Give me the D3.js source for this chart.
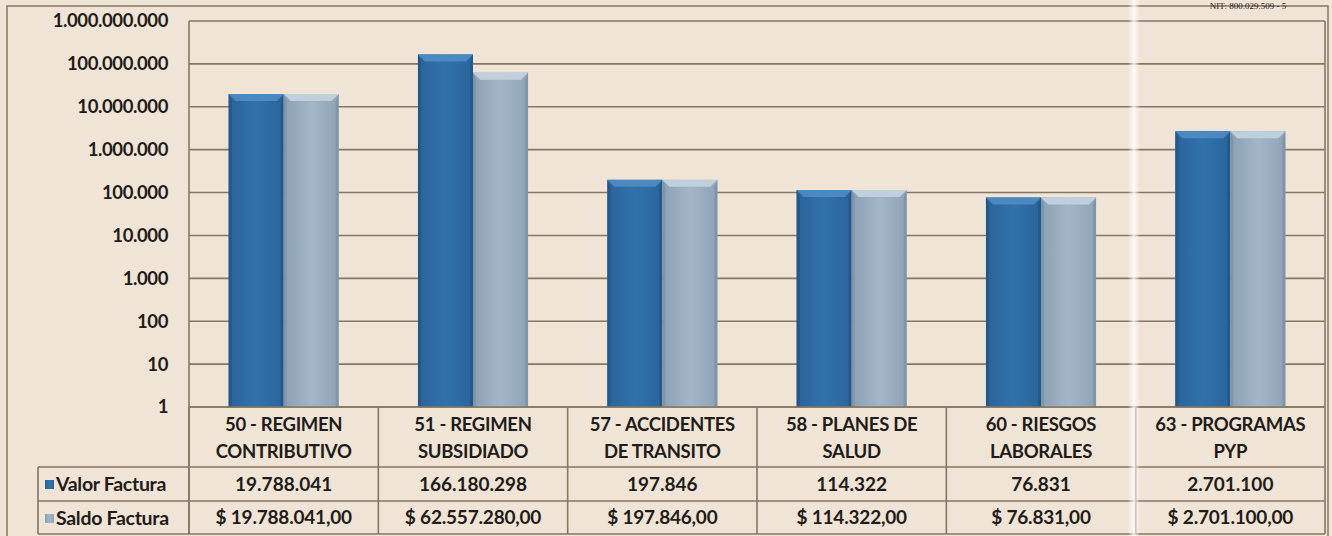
<!DOCTYPE html>
<html>
<head>
<meta charset="utf-8">
<script src="https://cdn.jsdelivr.net/npm/d3@7"></script>
<style>
  body { margin: 0; background: #f0e4d6; }
  svg { display: block; }
  text { font-family: Lato, "Open Sans", sans-serif; font-weight: bold; fill: #1f1c19; }
</style>
</head>
<body>
<svg id="svg" width="1332" height="536"></svg>
<script>
const categories = [
  ['50 - REGIMEN', 'CONTRIBUTIVO'],
  ['51 - REGIMEN', 'SUBSIDIADO'],
  ['57 - ACCIDENTES', 'DE TRANSITO'],
  ['58 - PLANES DE', 'SALUD'],
  ['60 - RIESGOS', 'LABORALES'],
  ['63 - PROGRAMAS', 'PYP']
]
const seriesNames = ['Valor Factura', 'Saldo Factura']
const valorFactura = [19788041, 166180298, 197846, 114322, 76831, 2701100]
const saldoFactura = [19788041, 62557280, 197846, 114322, 76831, 2701100]
const yTicks = [1, 10, 100, 1000, 10000, 100000, 1000000, 10000000, 100000000, 1000000000]

const es = d3.formatLocale({ decimal: ',', thousands: '.', grouping: [3], currency: ['$ ', ''] })
const fmtInt = es.format(',d')
const fmtMoney = es.format('$,.2f')

const svg = d3.select('#svg')
const lineCol = '#857761'

const left = 189, right = 1325
const x = d3.scaleBand()
  .domain(d3.range(categories.length))
  .range([left, right])

const xSub = d3.scaleBand()
  .domain(seriesNames)
  .range([0, x.bandwidth()])
  .paddingOuter(0.72)

const y = d3.scaleLog()
  .domain([1, 1e9])
  .range([407, 21])

// gradients
const defs = svg.append('defs')
function hGrad(id, stops) {
  const g = defs.append('linearGradient').attr('id', id)
    .attr('x1', 0).attr('x2', 1).attr('y1', 0).attr('y2', 0)
  stops.forEach(s => g.append('stop').attr('offset', s[0]).attr('stop-color', s[1]))
}
hGrad('gBlue', [[0, '#2a6399'], [0.5, '#3172ac'], [1, '#2a649b']])
hGrad('gGrey', [[0, '#8ca0b4'], [0.5, '#a3b6c8'], [1, '#8fa3b7']])
hGrad('fold', [[0, 'rgba(255,255,255,0)'], [0.5, 'rgba(255,255,255,0.8)'], [1, 'rgba(255,255,255,0)']])

const fills = { 'Valor Factura': 'url(#gBlue)', 'Saldo Factura': 'url(#gGrey)' }
const topCol = { 'Valor Factura': '#4b89c0', 'Saldo Factura': '#c0cfdc' }
const sideCol = { 'Valor Factura': '#1f5283', 'Saldo Factura': '#7b8fa3' }

// outer border
svg.append('path')
  .attr('d', 'M7,536 V6 H1328 V536')
  .attr('fill', 'none').attr('stroke', lineCol).attr('stroke-width', 1.5)

svg.append('text')
  .attr('x', 1248).attr('y', 9)
  .attr('text-anchor', 'middle')
  .style('font-family', '"Liberation Serif", serif')
  .style('font-weight', 'normal')
  .style('font-size', '9px')
  .text('NIT: 800.029.509 - 5')

// gridlines
svg.append('g').selectAll('line')
  .data(yTicks)
  .enter()
  .append('line')
  .attr('x1', left).attr('x2', right)
  .attr('y1', d => y(d)).attr('y2', d => y(d))
  .attr('stroke', lineCol).attr('stroke-width', 1.6)

// y axis labels
svg.append('g').selectAll('text')
  .data(yTicks)
  .enter()
  .append('text')
  .attr('x', 168)
  .attr('y', d => y(d))
  .attr('dy', '0.35em')
  .attr('text-anchor', 'end')
  .style('font-size', '18.5px')
  .style('letter-spacing', '-0.4px')
  .text(d => fmtInt(d))

svg.append('line')
  .attr('x1', left).attr('x2', left).attr('y1', y(1e9)).attr('y2', 534)
  .attr('stroke', lineCol).attr('stroke-width', 1.6)

// bars
const rows = categories.map((c, i) => ({ i, vals: [
  { name: 'Valor Factura', v: valorFactura[i] },
  { name: 'Saldo Factura', v: saldoFactura[i] }
] }))

const groups = svg.append('g').selectAll('g')
  .data(rows)
  .enter()
  .append('g')
  .attr('transform', d => `translate(${x(d.i)},0)`)

const bars = groups.selectAll('g')
  .data(d => d.vals)
  .enter()
  .append('g')

bars.append('rect')
  .attr('x', d => xSub(d.name))
  .attr('y', d => y(d.v))
  .attr('width', xSub.bandwidth())
  .attr('height', d => y(1) - y(d.v))
  .attr('fill', d => fills[d.name])

const bev = 7
bars.append('path')
  .attr('d', d => {
    const x0 = xSub(d.name), x1 = x0 + xSub.bandwidth(), t = y(d.v)
    return `M${x0},${t} L${x1},${t} L${x1 - bev},${t + bev} L${x0 + bev},${t + bev} Z`
  })
  .attr('fill', d => topCol[d.name])
bars.append('path')
  .attr('d', d => {
    const x0 = xSub(d.name), t = y(d.v), b = y(1)
    return `M${x0},${t} L${x0 + 3},${t + bev} L${x0 + 3},${b} L${x0},${b} Z`
  })
  .attr('fill', d => sideCol[d.name]).attr('opacity', 0.7)
bars.append('path')
  .attr('d', d => {
    const x1 = xSub(d.name) + xSub.bandwidth(), t = y(d.v), b = y(1)
    return `M${x1},${t} L${x1 - 3},${t + bev} L${x1 - 3},${b} L${x1},${b} Z`
  })
  .attr('fill', d => sideCol[d.name]).attr('opacity', 0.7)

// data table
const rowTop = 407, rowVal = 467, rowSal = 501, rowEnd = 534
const tableLeft = 38
const hl = [[left, rowTop], [tableLeft, rowVal], [tableLeft, rowSal], [tableLeft, rowEnd]]
svg.append('g').selectAll('line')
  .data(hl)
  .enter()
  .append('line')
  .attr('x1', d => d[0]).attr('x2', right)
  .attr('y1', d => d[1]).attr('y2', d => d[1])
  .attr('stroke', lineCol).attr('stroke-width', 1.6)

svg.append('g').selectAll('line')
  .data(d3.range(categories.length + 1))
  .enter()
  .append('line')
  .attr('x1', i => i < categories.length ? x(i) : right)
  .attr('x2', i => i < categories.length ? x(i) : right)
  .attr('y1', i => i === categories.length ? y(1e9) : rowTop)
  .attr('y2', rowEnd)
  .attr('stroke', lineCol).attr('stroke-width', 1.6)

svg.append('line')
  .attr('x1', tableLeft).attr('x2', tableLeft).attr('y1', rowVal).attr('y2', rowEnd)
  .attr('stroke', lineCol).attr('stroke-width', 1.6)

const catText = svg.append('g').selectAll('text')
  .data(categories)
  .enter()
  .append('text')
  .attr('text-anchor', 'middle')
  .style('font-size', '18.5px')
  .style('letter-spacing', '-0.3px')
catText.append('tspan')
  .attr('x', (d, i) => x(i) + x.bandwidth() / 2)
  .attr('y', 431)
  .text(d => d[0])
catText.append('tspan')
  .attr('x', (d, i) => x(i) + x.bandwidth() / 2)
  .attr('y', 458)
  .text(d => d[1])

svg.append('g').selectAll('text')
  .data(valorFactura)
  .enter()
  .append('text')
  .attr('x', (d, i) => x(i) + x.bandwidth() / 2)
  .attr('y', 491)
  .attr('text-anchor', 'middle')
  .style('font-size', '19px')
  .text(d => fmtInt(d))

svg.append('g').selectAll('text')
  .data(saldoFactura)
  .enter()
  .append('text')
  .attr('x', (d, i) => x(i) + x.bandwidth() / 2)
  .attr('y', 524)
  .attr('text-anchor', 'middle')
  .style('font-size', '19px')
  .style('letter-spacing', '-0.2px')
  .text(d => fmtMoney(d))

// legend keys in the table
const legendRows = seriesNames.map((n, i) => ({ n, y: i === 0 ? rowVal : rowSal }))
svg.append('g').selectAll('rect')
  .data(legendRows)
  .enter()
  .append('rect')
  .attr('x', 45).attr('y', d => d.y + 13)
  .attr('width', 9).attr('height', 9)
  .attr('fill', d => fills[d.n])
svg.append('g').selectAll('text')
  .data(legendRows)
  .enter()
  .append('text')
  .attr('x', 56).attr('y', d => d.y + 24)
  .style('font-size', '19.5px')
  .style('letter-spacing', '-0.3px')
  .text(d => d.n)

// paper fold streak
svg.append('rect')
  .attr('x', 1128).attr('y', 0).attr('width', 12).attr('height', 536)
  .attr('fill', 'url(#fold)')
</script>
</body>
</html>
